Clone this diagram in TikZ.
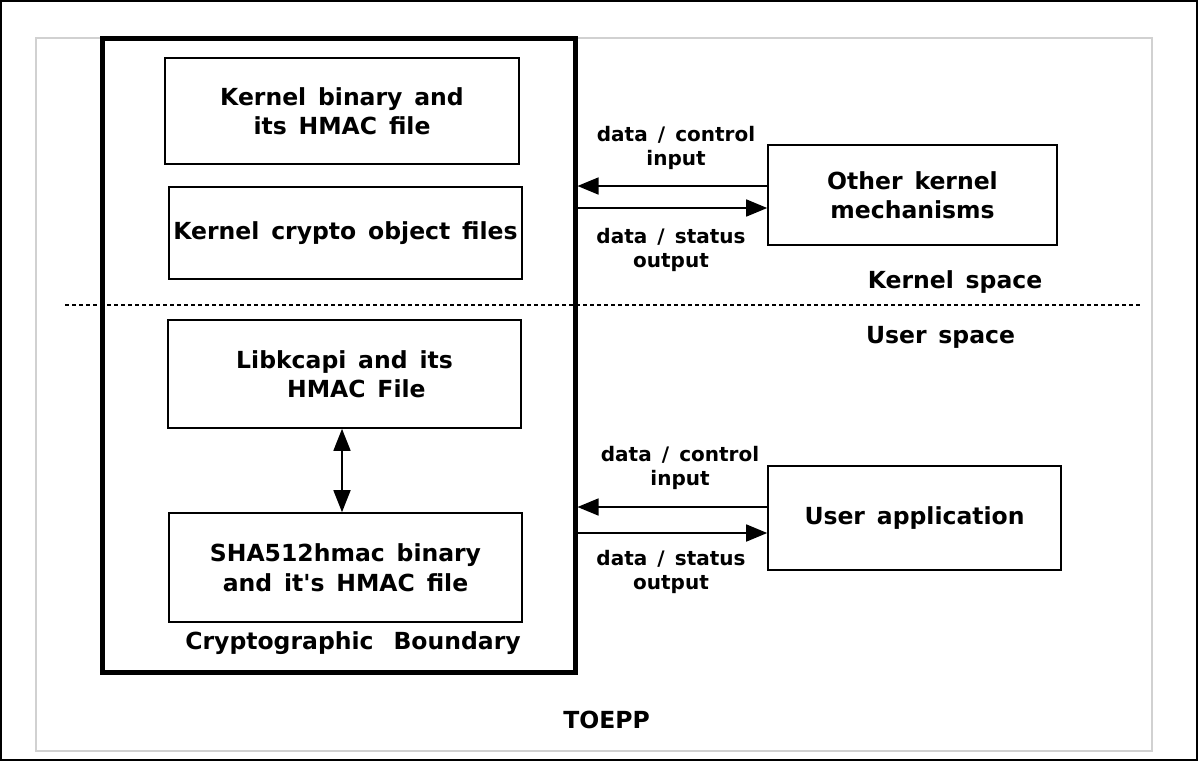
\documentclass[tikz,border=0pt]{standalone}
\usepackage{fontspec}
\setmainfont{DejaVu Sans}[WordSpace=1.45, Ligatures=TeXOff]
\usetikzlibrary{arrows.meta}
\tikzset{
  box/.style={draw=black, line width=1.6pt, align=center, inner sep=0pt,
    font=\bfseries\fontsize{23.5}{29.5}\selectfont},
  lbl/.style={align=center, inner sep=0pt, font=\bfseries\fontsize{20}{24}\selectfont},
  txt/.style={align=center, inner sep=0pt, font=\bfseries\fontsize{23.5}{29.5}\selectfont},
  arr/.style={line width=1.6pt, -{Triangle[length=21pt,width=17pt]}},
  darr/.style={line width=1.6pt, {Triangle[length=22pt,width=17pt]}-{Triangle[length=22pt,width=17pt]}}
}
\begin{document}
\begin{tikzpicture}[x=1pt,y=-1pt]
\useasboundingbox (0,0) rectangle (1198,761);
\draw[line width=2pt] (1,1) rectangle (1197,760);
\draw[line width=1.5pt, black!18] (36,38) rectangle (1152,751);
% dotted separator
\draw[line width=1.3pt, dash pattern=on 4pt off 3pt] (65,305) -- (1140,305);
% cryptographic boundary
\node[draw, line width=5pt, minimum width=473, minimum height=634, inner sep=0pt] (cb) at (338.5,355) {};
% inner boxes
\node[box, minimum width=354, minimum height=106] (k1) at (342,111) {Kernel binary and\\its HMAC file};
\node[box, minimum width=353, minimum height=92] (k2) at (345.5,233) {Kernel crypto object files};
\node[box, minimum width=353, minimum height=108] (k3) at (344.5,374) {Libkcapi and its\\\ \ HMAC File};
\node[box, minimum width=353, minimum height=109] (k4) at (345.5,567.5) {SHA512hmac binary\\and it's HMAC file};
\node[txt] (cbl) at (353,643) {Cryptographic\hspace{0.85em}Boundary};
% double arrow
\draw[darr] ([xshift=-2.5pt]k3.south) -- ([xshift=-2.5pt]k3.south |- k4.north);
% right boxes
\node[box, minimum width=289, minimum height=100] (ok) at (912.5,195) {Other kernel\\mechanisms};
\node[box, minimum width=293, minimum height=104] (ua) at (914.5,518) {User application};
% arrows
\draw[arr] ([yshift=9pt]ok.west) -- ([yshift=9pt]ok.west -| cb.east);
\draw[arr] ([yshift=-13pt]ok.west -| cb.east) -- ([yshift=-13pt]ok.west);
\draw[arr] ([yshift=11pt]ua.west) -- ([yshift=11pt]ua.west -| cb.east);
\draw[arr] ([yshift=-15pt]ua.west -| cb.east) -- ([yshift=-15pt]ua.west);
% labels
\node[lbl] (l1) at (676,148) {data / control\\input};
\node[lbl] (l2) at (671,250) {data / status\\output};
\node[lbl] (l3) at (680,468) {data / control\\input};
\node[lbl] (l4) at (671,572) {data / status\\output};
\node[txt] (ks) at (955,282) {Kernel space};
\node[txt] (us) at (940.5,337) {User space};
\node[txt] (toe) at (606.5,720) {TOEPP};
\end{tikzpicture}
\end{document}
